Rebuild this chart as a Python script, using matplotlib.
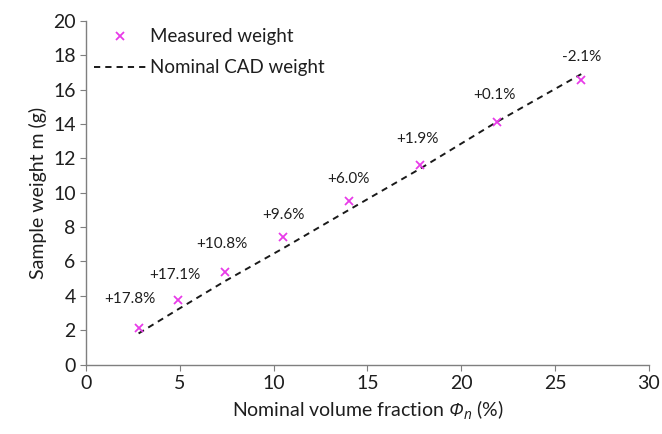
import matplotlib
matplotlib.use("Agg")
from matplotlib import pyplot as plt

# nominal volume fraction (%) and weights (g)
volume_fraction = [2.8, 4.9, 7.4, 10.5, 14.0, 17.8, 21.9, 26.4]
measured_weight = [2.13, 3.76, 5.37, 7.41, 9.53, 11.61, 14.13, 16.55]
nominal_weight = [1.81, 3.21, 4.85, 6.76, 8.99, 11.39, 14.12, 16.90]
deviation_labels = ["+17.8%", "+17.1%", "+10.8%", "+9.6%", "+6.0%", "+1.9%", "+0.1%", "-2.1%"]

plt.rcParams['font.family'] = ['Lato', 'DejaVu Sans']
# italic Phi: mathtext forces capital Greek to the rm font, so make rm italic
plt.rcParams['mathtext.fontset'] = 'custom'
plt.rcParams['mathtext.rm'] = 'Open Sans:italic'
plt.rcParams['mathtext.it'] = 'Open Sans:italic'
text_color = '#1e1e1e'
axis_color = '#7f7f7f'

fig = plt.figure(figsize=(6.62, 4.34), dpi=100)
ax = fig.add_axes([0.130, 0.160, 0.850, 0.792])

ax.plot(volume_fraction, nominal_weight, linestyle=(0, (3.2, 2.6)), color='#1a1a1a',
        linewidth=1.4, label='Nominal CAD weight', zorder=2)
ax.plot(volume_fraction, measured_weight, linestyle='none', marker='x', markersize=6,
        markeredgewidth=1.3, color='#e83be8', label='Measured weight', zorder=3)

# deviation labels above each measured point
label_shift = [(-6, 21), (-2, 18), (-2, 20), (0, 16), (0, 16), (-2, 19), (-2, 19), (0, 17)]
for x, y, txt, (dx, dy) in zip(volume_fraction, measured_weight, deviation_labels, label_shift):
    ax.annotate(txt, (x, y), xytext=(dx, dy), textcoords='offset points',
                ha='center', va='center', fontsize=11, color=text_color)

ax.set_xlim(0, 30)
ax.set_ylim(0, 20)
ax.set_xticks(range(0, 31, 5))
ax.set_yticks(range(0, 21, 2))
ax.set_xlabel('Nominal volume fraction $Φ_n$ (%)', fontsize=14, color=text_color)
ax.set_ylabel('Sample weight m (g)', fontsize=14, color=text_color)

for side in ['top', 'right']:
    ax.spines[side].set_visible(False)
for side in ['left', 'bottom']:
    ax.spines[side].set_color(axis_color)
    ax.spines[side].set_linewidth(1.0)
ax.tick_params(colors=axis_color, labelcolor=text_color, labelsize=14, length=4, direction='out')

handles, labels = ax.get_legend_handles_labels()
ax.legend(handles[::-1], labels[::-1], loc='upper left', frameon=False, fontsize=13.5,
          handlelength=2.8, handletextpad=0.2, labelspacing=0.75, borderaxespad=0,
          labelcolor=text_color, bbox_to_anchor=(0.0, 1.0))

plt.savefig('out.png', dpi=100)
